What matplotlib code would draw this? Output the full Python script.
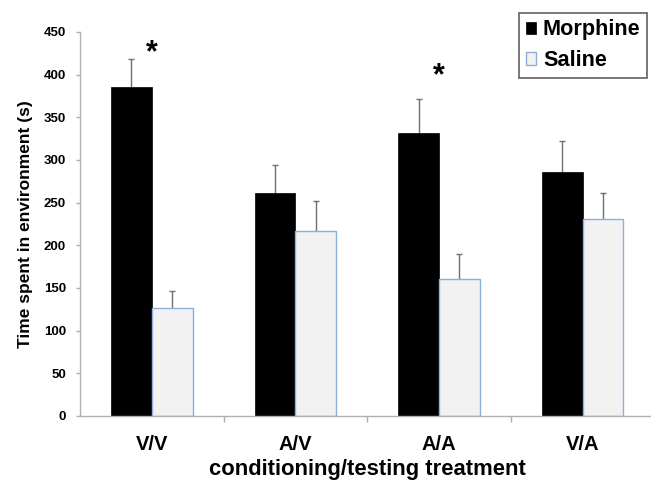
import numpy as np
import matplotlib
matplotlib.use("Agg")
import matplotlib.pyplot as plt
from matplotlib.ticker import FixedLocator

plt.rcParams['font.family'] = ['Liberation Sans', 'DejaVu Sans']

groups = ["V/V", "A/V", "A/A", "V/A"]
morphine = [385, 261, 332, 286]
morphine_err = [33, 33, 39, 36]
saline = [126, 217, 160, 231]
saline_err = [21, 35, 30, 30]
star_groups = [0, 2]          # groups marked with *
star_y = [435, 408]           # centre height of the * in data units

fig = plt.figure(figsize=(6.51, 4.8), dpi=100)
ax = fig.add_axes([80/651, 64/480, 574.4/651, 384/480])

x = np.arange(len(groups))
w = 0.284
ax.bar(x - w/2, morphine, w, color="black", edgecolor="black", linewidth=0.5,
       label="Morphine", zorder=2)
ax.bar(x + w/2, saline, w, color="#f2f2f2", edgecolor="#8eaedb", linewidth=1,
       label="Saline", zorder=2)

# upper-only error bars, no cap at the bar top
for xs, ys, es in [(x - w/2, morphine, morphine_err), (x + w/2, saline, saline_err)]:
    eb = ax.errorbar(xs, ys, yerr=[np.zeros(4), es], fmt="none", ecolor="#707070",
                     elinewidth=1, capsize=2.5, capthick=1, zorder=1)
    eb.lines[1][0].set_visible(False)

for g, yy in zip(star_groups, star_y):
    ax.annotate("*", xy=(g, yy), xytext=(0, -12), textcoords="offset points",
                ha="center", va="baseline", fontsize=22, fontweight="bold")

ax.set_xlim(-0.5, 3.5)
ax.set_ylim(0, 450)
ax.set_yticks(np.arange(0, 451, 50))
ax.set_xticks(x)
ax.set_xticklabels(groups, fontsize=14.5, fontweight="bold")
ax.xaxis.set_minor_locator(FixedLocator([0.5, 1.5, 2.5]))
ax.tick_params(axis="x", which="major", length=0, pad=14)
ax.tick_params(axis="x", which="minor", length=4, color="#b0b0b0", width=1)
ax.tick_params(axis="y", length=3, color="#b0b0b0", width=1, pad=7, labelsize=9.5)
for lab in ax.get_yticklabels():
    lab.set_fontweight("bold")

for s in ["top", "right"]:
    ax.spines[s].set_visible(False)
for s in ["left", "bottom"]:
    ax.spines[s].set_color("#b0b0b0")
    ax.spines[s].set_linewidth(1)

ax.set_ylabel("Time spent in environment (s)", fontsize=12.5, fontweight="bold", labelpad=8)
ax.set_xlabel("conditioning/testing treatment", fontsize=15.8, fontweight="bold", labelpad=3)

leg = ax.legend(loc="upper right", bbox_to_anchor=(647/651, 1 - 13/480),
                bbox_transform=fig.transFigure, prop=dict(size=15.6, weight="bold"),
                handlelength=0.5, handleheight=0.5, handletextpad=0.3,
                borderpad=0.3, labelspacing=0.45, borderaxespad=0,
                fancybox=False, framealpha=1)
leg.get_frame().set_edgecolor("#606060")
leg.get_frame().set_linewidth(1.2)

fig.savefig("out.png", dpi=100)
